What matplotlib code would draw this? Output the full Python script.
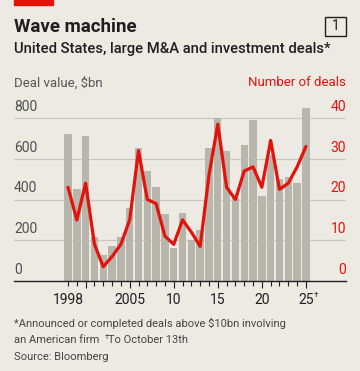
import matplotlib
matplotlib.use("Agg")
import matplotlib.pyplot as plt
import matplotlib.transforms as mtransforms
from matplotlib.patches import Rectangle

years = list(range(1998, 2026))
deal_value = [720, 450, 710, 214, 130, 170, 215, 360, 652, 540, 463, 328, 160, 332,
              200, 252, 655, 802, 640, 405, 670, 792, 417, 620, 500, 511, 480, 848]
deal_count = [23, 15, 24, 9, 3.5, 6, 9, 15, 32, 20, 19, 11, 9, 15,
              12, 8.5, 26, 38.5, 23, 20, 27, 28, 23, 34.5, 22.5, 24, 28, 33]
left_ticks = [0, 200, 400, 600, 800]
right_ticks = [0, 10, 20, 30, 40]
xlabels = [(1998, "1998"), (2005, "2005"), (2010, "10"), (2015, "15"), (2020, "20"), (2025, "25")]

BG = "#ECEAE3"
RED = "#E3120B"
BAR = "#B7B5AC"
GRID = "#C9C7C0"
DARK = "#1F1F1F"
plt.rcParams["font.family"] = ["Roboto", "DejaVu Sans"]

W, H = 360, 371
fig = plt.figure(figsize=(W / 100, H / 100), dpi=100, facecolor=BG)


def fx(x):
    return x / W


def fy(y):
    return 1 - y / H


# axes: x 14..346 px, y 105.8..281 px
top_px, base_px = 105.8, 281.0
ax = fig.add_axes([fx(14), fy(base_px), fx(346) - fx(14), (base_px - top_px) / H])
ax.set_facecolor("none")
ymax = 860
ax.set_ylim(0, ymax)
ax.set_xlim(1991.87, 2029.55)
ax2 = ax.twinx()
ax2.set_ylim(0, ymax / 20)

for v in left_ticks[1:]:
    ax.axhline(v, color=GRID, lw=0.9, zorder=0)
ax.bar(years, deal_value, width=0.84, color=BAR, zorder=1)
ax2.plot(years, deal_count, color=RED, lw=2.3, solid_joinstyle="round",
         solid_capstyle="round", zorder=3)

for a in (ax, ax2):
    for s in a.spines.values():
        s.set_visible(False)
    a.set_yticks([])
ax.spines["bottom"].set_visible(True)
ax.spines["bottom"].set_color(DARK)
ax.spines["bottom"].set_linewidth(1.0)
ax.set_xticks(list(range(2000, 2026, 5)))
ax.set_xticks(years, minor=True)
ax.set_xticklabels([])
ax.tick_params(axis="x", which="major", length=5, width=0.8, color=DARK)
ax.tick_params(axis="x", which="minor", length=3.3, width=0.8, color=DARK)

# y labels sitting above gridlines
lt = mtransforms.blended_transform_factory(ax.transAxes, ax.transData)
lt = mtransforms.offset_copy(lt, fig=fig, y=3, units="points")
for v in left_ticks:
    ax.text(0, v, str(v), transform=lt, ha="left", va="bottom", fontsize=10, color="#505050")
rt = mtransforms.blended_transform_factory(ax2.transAxes, ax2.transData)
rt = mtransforms.offset_copy(rt, fig=fig, y=3, units="points")
for v in right_ticks:
    ax2.text(1, v, str(v), transform=rt, ha="right", va="bottom", fontsize=10, color=RED)

# x labels
xt = mtransforms.blended_transform_factory(ax.transData, ax.transAxes)
xt = mtransforms.offset_copy(xt, fig=fig, y=-8.5, units="points")
for yr, lab in xlabels:
    ax.text(yr, 0, lab, transform=xt, ha="center", va="top", fontsize=10, color=DARK)
ax.text(2025, 0, "\u2020", transform=mtransforms.offset_copy(xt, fig=fig, x=5.6, y=0.5, units="points"),
        ha="left", va="top", fontsize=6, color=DARK)

# header
fig.add_artist(Rectangle((fx(14), fy(5)), fx(53) - fx(14), 5 / H, color=RED, transform=fig.transFigure))
fig.text(fx(14), fy(27), "Wave machine", fontsize=13.5, fontweight="bold", color=DARK, va="center")
fig.add_artist(Rectangle((fx(325), fy(36)), fx(346) - fx(325), 19 / H, fill=False,
                         edgecolor=DARK, lw=1.0, transform=fig.transFigure))
fig.text(fx(335.5), fy(26.5), "1", fontsize=10, color=DARK, ha="center", va="center")
fig.text(fx(14), fy(48.5), "United States, large M&A and investment deals*", fontsize=10.6,
         fontweight="medium", color=DARK, va="center")
fig.text(fx(14), fy(83), "Deal value, $bn", fontsize=9.5, color="#555555", va="center")
fig.text(fx(346), fy(83), "Number of deals", fontsize=9.5, color=RED, va="center", ha="right")

# footnotes
FN = "#444444"
fig.text(fx(14), fy(323), "*Announced or completed deals above $10bn involving", fontsize=8, color=FN, va="center")
fig.text(fx(14), fy(340), "an American firm", fontsize=8, color=FN, va="center")
fig.text(fx(104.5), fy(337), "\u2020", fontsize=5.5, color=FN, va="center")
fig.text(fx(108.5), fy(340), "To October 13th", fontsize=8, color=FN, va="center")
fig.text(fx(14), fy(357), "Source: Bloomberg", fontsize=8, color=FN, va="center")

fig.savefig("out.png", dpi=100, facecolor=BG)
